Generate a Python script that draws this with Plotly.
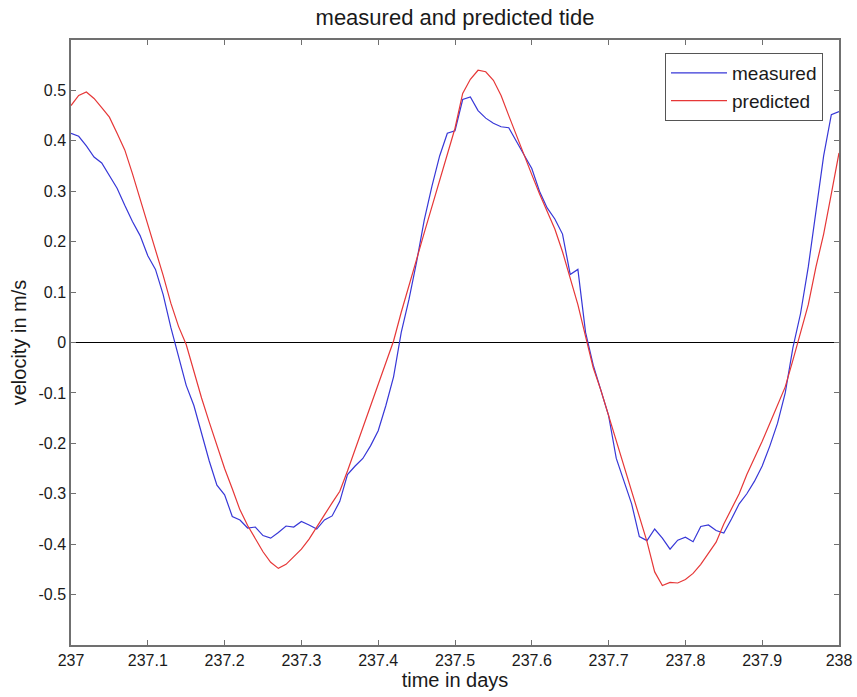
import plotly.graph_objects as go

# time axis (days), sampled every 0.01 day
time_days = [
    237.00, 237.01, 237.02, 237.03, 237.04, 237.05, 237.06, 237.07, 237.08, 237.09,
    237.10, 237.11, 237.12, 237.13, 237.14, 237.15, 237.16, 237.17, 237.18, 237.19,
    237.20, 237.21, 237.22, 237.23, 237.24, 237.25, 237.26, 237.27, 237.28, 237.29,
    237.30, 237.31, 237.32, 237.33, 237.34, 237.35, 237.36, 237.37, 237.38, 237.39,
    237.40, 237.41, 237.42, 237.43, 237.44, 237.45, 237.46, 237.47, 237.48, 237.49,
    237.50, 237.51, 237.52, 237.53, 237.54, 237.55, 237.56, 237.57, 237.58, 237.59,
    237.60, 237.61, 237.62, 237.63, 237.64, 237.65, 237.66, 237.67, 237.68, 237.69,
    237.70, 237.71, 237.72, 237.73, 237.74, 237.75, 237.76, 237.77, 237.78, 237.79,
    237.80, 237.81, 237.82, 237.83, 237.84, 237.85, 237.86, 237.87, 237.88, 237.89,
    237.90, 237.91, 237.92, 237.93, 237.94, 237.95, 237.96, 237.97, 237.98, 237.99,
    238.00,
]

# measured velocity (m/s)
measured = [
    0.415, 0.409, 0.390, 0.368, 0.356, 0.330, 0.306, 0.272, 0.240, 0.212,
    0.172, 0.145, 0.095, 0.030, -0.030, -0.085, -0.125, -0.180, -0.235, -0.283,
    -0.302, -0.345, -0.352, -0.368, -0.366, -0.383, -0.388, -0.377, -0.364, -0.366,
    -0.355, -0.362, -0.370, -0.352, -0.344, -0.315, -0.262, -0.245, -0.230, -0.205,
    -0.175, -0.125, -0.068, 0.020, 0.085, 0.160, 0.243, 0.310, 0.370, 0.415,
    0.420, 0.482, 0.487, 0.460, 0.445, 0.435, 0.428, 0.426, 0.400, 0.372,
    0.345, 0.300, 0.267, 0.245, 0.215, 0.135, 0.145, 0.020, -0.045, -0.095,
    -0.145, -0.230, -0.275, -0.320, -0.385, -0.393, -0.370, -0.388, -0.410, -0.392,
    -0.386, -0.395, -0.365, -0.362, -0.373, -0.378, -0.350, -0.320, -0.300, -0.275,
    -0.245, -0.205, -0.160, -0.100, -0.010, 0.058, 0.150, 0.255, 0.370, 0.452,
    0.458,
]

# predicted tidal velocity (m/s)
predicted = [
    0.470, 0.490, 0.497, 0.484, 0.466, 0.447, 0.415, 0.382, 0.335, 0.285,
    0.235, 0.185, 0.133, 0.078, 0.032, -0.004, -0.058, -0.110, -0.158, -0.205,
    -0.250, -0.290, -0.332, -0.363, -0.390, -0.415, -0.436, -0.448, -0.440, -0.425,
    -0.410, -0.390, -0.367, -0.342, -0.318, -0.295, -0.255, -0.212, -0.168, -0.125,
    -0.085, -0.043, 0.003, 0.060, 0.110, 0.165, 0.218, 0.270, 0.320, 0.375,
    0.425, 0.494, 0.522, 0.540, 0.537, 0.520, 0.490, 0.450, 0.410, 0.370,
    0.333, 0.295, 0.260, 0.225, 0.180, 0.127, 0.075, 0.012, -0.050, -0.095,
    -0.145, -0.200, -0.250, -0.300, -0.350, -0.395, -0.455, -0.482, -0.476, -0.477,
    -0.470, -0.458, -0.440, -0.418, -0.396, -0.360, -0.330, -0.300, -0.262, -0.230,
    -0.196, -0.160, -0.125, -0.088, -0.035, 0.020, 0.075, 0.150, 0.215, 0.295,
    0.376,
]

x_ticks = [237, 237.1, 237.2, 237.3, 237.4, 237.5, 237.6, 237.7, 237.8, 237.9, 238]
y_ticks = [-0.5, -0.4, -0.3, -0.2, -0.1, 0, 0.1, 0.2, 0.3, 0.4, 0.5]

FONT = "Liberation Sans, Arial, sans-serif"
TEXT = "#1a1a1a"

fig = go.Figure()

# zero reference line
fig.add_trace(go.Scatter(
    x=[time_days[0], time_days[-1]], y=[0, 0], mode="lines",
    line=dict(color="black", width=1), showlegend=False, hoverinfo="skip",
))

fig.add_trace(go.Scatter(
    x=time_days, y=measured, mode="lines", name="measured",
    line=dict(color="rgb(55,55,215)", width=1.2),
))
fig.add_trace(go.Scatter(
    x=time_days, y=predicted, mode="lines", name="predicted",
    line=dict(color="rgb(230,55,55)", width=1.2),
))

axis_common = dict(
    showgrid=False, zeroline=False, showline=True, linecolor="#707070", linewidth=1.5,
    mirror="ticks", ticks="inside", ticklen=5, tickcolor="#707070", tickwidth=1,
    tickfont=dict(family=FONT, size=16, color=TEXT), automargin=False,
)

fig.update_layout(
    width=857, height=697,
    paper_bgcolor="white", plot_bgcolor="white",
    margin=dict(l=71, r=18, t=40, b=52),
    title=dict(text="measured and predicted tide", x=0.5, xanchor="center",
               xref="paper", yref="container", y=1 - 17 / 697, yanchor="middle",
               font=dict(family=FONT, size=22, color=TEXT)),
    xaxis=dict(range=[237, 238], tickvals=x_ticks,
               ticktext=[f"{v:g}" for v in x_ticks],
               title=dict(text="time in days", standoff=4,
                          font=dict(family=FONT, size=20, color=TEXT)),
               **axis_common),
    yaxis=dict(range=[-0.6, 0.6], tickvals=y_ticks,
               ticktext=[f"{v:g}" for v in y_ticks],
               title=dict(text="velocity in m/s", standoff=6,
                          font=dict(family=FONT, size=20, color=TEXT)),
               **axis_common),
    legend=dict(x=(823 - 71) / 768, y=1 - (53 - 40) / 605, xanchor="right", yanchor="top",
                bgcolor="white", bordercolor="#555555", borderwidth=1,
                font=dict(family=FONT, size=19, color=TEXT),
                tracegroupgap=0, itemwidth=56),
    showlegend=True,
)

fig.write_html("out.html")
